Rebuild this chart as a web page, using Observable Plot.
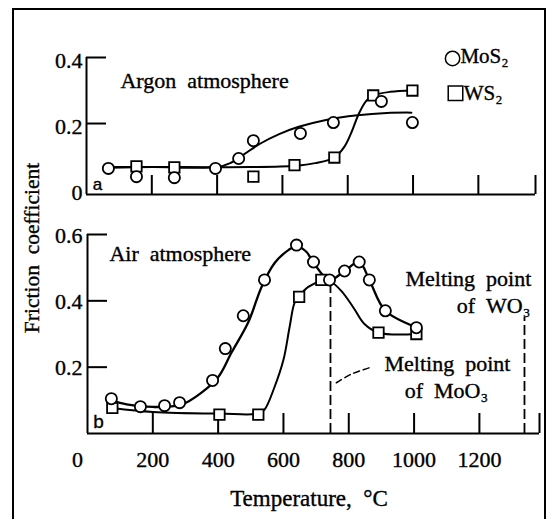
<!DOCTYPE html>
<html><head><meta charset="utf-8">
<script src="https://cdn.jsdelivr.net/npm/d3@7"></script>
<script src="https://cdn.jsdelivr.net/npm/@observablehq/plot@0.6"></script>
<style>
html,body{margin:0;padding:0;background:#fff;}
#wrap{position:relative;width:553px;height:519px;overflow:hidden;background:#fff;font-family:"Liberation Serif",serif;color:#000;}
#frame{position:absolute;left:12px;top:8px;width:530px;height:600px;border:2px solid #000;}
#pa{position:absolute;left:0;top:0;}
#pb{position:absolute;left:0;top:210px;}
#ylab{position:absolute;left:32px;top:248px;transform:translate(-50%,-50%) rotate(-90deg);font-size:21.5px;white-space:nowrap;-webkit-text-stroke:0.35px #000;}
#xlab{position:absolute;left:309px;top:499px;transform:translate(-50%,-50%);font-size:23px;white-space:nowrap;-webkit-text-stroke:0.35px #000;}
#wrap svg text{stroke:#000;stroke-width:0.35px;}
</style></head><body>
<div id="wrap"><div id="frame"></div><div id="pa"></div><div id="pb"></div>
<div id="ylab">Friction&nbsp;&nbsp;coefficient</div>
<div id="xlab">Temperature,&nbsp;&nbsp;°C</div></div>
<script>
// ---- tick values / labels ----
const xTicks = [200, 400, 600, 800, 1000, 1200];
const xTickLabels = ["0", "200", "400", "600", "800", "1000", "1200"];
const xTickLabelValues = [0, 200, 400, 600, 800, 1000, 1200];
const yTicksA = [0.2, 0.4];
const yTickLabelsA = ["0", "0.2", "0.4"];
const yTickLabelValuesA = [0, 0.2, 0.4];
const yTicksB = [0.2, 0.4, 0.6];
const yTickLabelsB = ["0.2", "0.4", "0.6"];

// ---- (a) Argon atmosphere: measured points ----
const argonMoS2T = [67, 153, 269, 395, 466, 511, 655, 756, 903, 998];
const argonMoS2F = [0.064, 0.039, 0.036, 0.064, 0.094, 0.148, 0.17, 0.203, 0.267, 0.203];
const argonWS2T = [153, 269, 511, 637, 759, 878, 998];
const argonWS2F = [0.07, 0.067, 0.039, 0.074, 0.097, 0.285, 0.30];
// fitted curves (a)
const argonMoS2CurveT = [67, 200, 400, 440, 480, 530, 590, 650, 730, 830, 920, 995];
const argonMoS2CurveF = [0.066, 0.068, 0.068, 0.08, 0.105, 0.138, 0.168, 0.19, 0.21, 0.225, 0.232, 0.233];
const argonWS2CurveT = [67, 300, 500, 640, 700, 759, 790, 810, 835, 858, 878, 930, 998];
const argonWS2CurveF = [0.068, 0.068, 0.068, 0.072, 0.08, 0.097, 0.13, 0.17, 0.232, 0.27, 0.285, 0.296, 0.30];

// ---- (b) Air atmosphere: measured points ----
const airMoS2T = [73, 162, 236, 282, 383, 422, 477, 542, 640, 692, 741, 787, 832, 863, 912, 1007];
const airMoS2F = [0.105, 0.081, 0.084, 0.093, 0.16, 0.256, 0.355, 0.463, 0.568, 0.517, 0.463, 0.49, 0.517, 0.463, 0.37, 0.319];
const airWS2T = [76, 404, 523, 648, 716, 891, 1007];
const airWS2F = [0.077, 0.057, 0.057, 0.412, 0.463, 0.304, 0.30];
// fitted curves (b)
const airMoS2CurveT = [73, 120, 200, 288, 349, 401, 441, 493, 533, 573, 615, 640, 670, 692, 741, 787, 832, 863, 912, 1007];
const airMoS2CurveF = [0.1, 0.088, 0.08, 0.087, 0.123, 0.171, 0.244, 0.337, 0.442, 0.514, 0.553, 0.565, 0.548, 0.515, 0.463, 0.49, 0.517, 0.463, 0.37, 0.32];
const airWS2CurveT = [76, 200, 404, 523, 542, 573, 600, 619, 634, 649, 676, 716, 741, 777, 814, 848, 891, 1007];
const airWS2CurveF = [0.077, 0.065, 0.06, 0.06, 0.072, 0.141, 0.222, 0.322, 0.394, 0.415, 0.442, 0.46, 0.46, 0.43, 0.38, 0.33, 0.304, 0.30];

// melting points
const meltingT = [744, 1338];
const meltingTop = [0.455, 0.35];

const zip = (T, F) => T.map((t, i) => ({t, f: F[i]}));
const font = "Liberation Serif";

// ---------- panel a ----------
const xMaxA = 1375, yMinA = -0.015;
const pxXA = xMaxA / (553 - 86 - 18);
const pxYA = (0.4 - yMinA) / (210 - 57 - 16);
const pa = Plot.plot({
  width: 553, height: 210, marginTop: 57, marginBottom: 16, marginLeft: 86, marginRight: 18,
  x: {type: "linear", domain: [0, xMaxA], axis: null},
  y: {type: "linear", domain: [yMinA, 0.4], axis: null},
  style: {fontFamily: font, fontSize: "22px", background: "transparent", overflow: "visible"},
  marks: [
    Plot.ruleY([yMinA], {x1: 0, x2: xMaxA, strokeWidth: 2}),
    Plot.ruleX([0], {y1: yMinA, y2: 0.4, strokeWidth: 2}),
    Plot.ruleY(yTicksA, {y: d => d, x1: 0, x2: 20 * pxXA, strokeWidth: 2}),
    Plot.ruleX([...xTicks, xMaxA], {x: d => d, y1: yMinA, y2: yMinA + 19 * pxYA, strokeWidth: 2}),
    Plot.text(yTickLabelValuesA, {x: 0, y: d => d, text: (d, i) => yTickLabelsA[i], textAnchor: "end", dx: -4, dy: 3, fontSize: 22}),
    Plot.line(zip(argonWS2CurveT, argonWS2CurveF), {x: "t", y: "f", curve: "catmull-rom", strokeWidth: 2}),
    Plot.line(zip(argonMoS2CurveT, argonMoS2CurveF), {x: "t", y: "f", curve: "catmull-rom", strokeWidth: 2}),
    Plot.dot(zip(argonWS2T, argonWS2F), {x: "t", y: "f", symbol: "square", r: 5.9, fill: "white", stroke: "black", strokeWidth: 1.8}),
    Plot.dot(zip(argonMoS2T, argonMoS2F), {x: "t", y: "f", symbol: "circle", r: 5.6, fill: "white", stroke: "black", strokeWidth: 1.8}),
    Plot.text(["Argon\u00a0\u00a0atmosphere"], {x: 104, y: 0.33, text: d => d, textAnchor: "start", fontSize: 22}),
    Plot.text(["a"], {x: 34, y: 0.015, text: d => d, fontFamily: "Liberation Sans", fontSize: 17}),
    // legend
    Plot.dot([0], {x: 1121, y: 0.397, symbol: "circle", r: 7.2, fill: "white", stroke: "black", strokeWidth: 1.5}),
    Plot.text(["MoS\u2082"], {x: 1145, y: 0.403, text: d => d, textAnchor: "start", fontSize: 21}),
    Plot.dot([0], {x: 1130, y: 0.292, symbol: "square", r: 8.2, fill: "white", stroke: "black", strokeWidth: 1.5}),
    Plot.text(["WS\u2082"], {x: 1155, y: 0.292, text: d => d, textAnchor: "start", fontSize: 21})
  ]
});
document.getElementById("pa").appendChild(pa);

// ---------- panel b ----------
const xMaxB = 1384;
const pxXB = xMaxB / (553 - 87 - 14);
const pxYB = 0.6 / (260 - 24 - 37);
const pb = Plot.plot({
  width: 553, height: 260, marginTop: 24, marginBottom: 37, marginLeft: 87, marginRight: 14,
  x: {type: "linear", domain: [0, xMaxB], axis: null},
  y: {type: "linear", domain: [0, 0.6], axis: null},
  style: {fontFamily: font, fontSize: "22px", background: "transparent", overflow: "visible"},
  marks: [
    Plot.ruleY([0], {x1: 0, x2: xMaxB, strokeWidth: 2}),
    Plot.ruleX([0], {y1: 0, y2: 0.6, strokeWidth: 2}),
    Plot.ruleY(yTicksB, {y: d => d, x1: 0, x2: 20 * pxXB, strokeWidth: 2}),
    Plot.ruleX([...xTicks, xMaxB], {x: d => d, y1: 0, y2: 20 * pxYB, strokeWidth: 2}),
    Plot.text(yTicksB, {x: 0, y: d => d, text: (d, i) => yTickLabelsB[i], textAnchor: "end", dx: -5, dy: 1, fontSize: 22}),
    Plot.text(xTickLabelValues.slice(1), {x: d => d, y: 0, text: (d, i) => xTickLabels[i + 1], dy: 26, fontSize: 22}),
    Plot.text([xTickLabelValues[0]], {x: d => d, y: 0, text: () => xTickLabels[0], dy: 26, dx: -10, fontSize: 22}),
    // melting point dashed lines
    Plot.ruleX(meltingT, {x: d => d, y1: 0, y2: (d, i) => meltingTop[i], strokeWidth: 1.8, strokeDasharray: "10,4"}),
    Plot.line([{t: 762, f: 0.153}, {t: 810, f: 0.18}, {t: 869, f: 0.2}], {x: "t", y: "f", curve: "catmull-rom", strokeWidth: 1.5, strokeDasharray: "6,4"}),
    Plot.line(zip(airWS2CurveT, airWS2CurveF), {x: "t", y: "f", curve: "catmull-rom", strokeWidth: 2}),
    Plot.line(zip(airMoS2CurveT, airMoS2CurveF), {x: "t", y: "f", curve: "catmull-rom", strokeWidth: 2.3}),
    Plot.dot(zip(airWS2T, airWS2F), {x: "t", y: "f", symbol: "square", r: 5.9, fill: "white", stroke: "black", strokeWidth: 1.8}),
    Plot.dot(zip(airMoS2T, airMoS2F), {x: "t", y: "f", symbol: "circle", r: 5.6, fill: "white", stroke: "black", strokeWidth: 1.8}),
    Plot.text(["Air\u00a0\u00a0atmosphere"], {x: 67, y: 0.541, text: d => d, textAnchor: "start", fontSize: 22}),
    Plot.text(["b"], {x: 34, y: 0.036, text: d => d, fontFamily: "Liberation Sans", fontSize: 19}),
    Plot.text(["Melting\u00a0\u00a0point"], {x: 1359, y: 0.466, text: d => d, textAnchor: "end", fontSize: 22}),
    Plot.text(["of\u00a0\u00a0WO\u2083"], {x: 1356, y: 0.386, text: d => d, textAnchor: "end", fontSize: 22}),
    Plot.text(["Melting\u00a0\u00a0point"], {x: 1102, y: 0.21, text: d => d, fontSize: 22}),
    Plot.text(["of\u00a0\u00a0MoO\u2083"], {x: 1099, y: 0.129, text: d => d, fontSize: 22})
  ]
});
document.getElementById("pb").appendChild(pb);
</script>
</body></html>
